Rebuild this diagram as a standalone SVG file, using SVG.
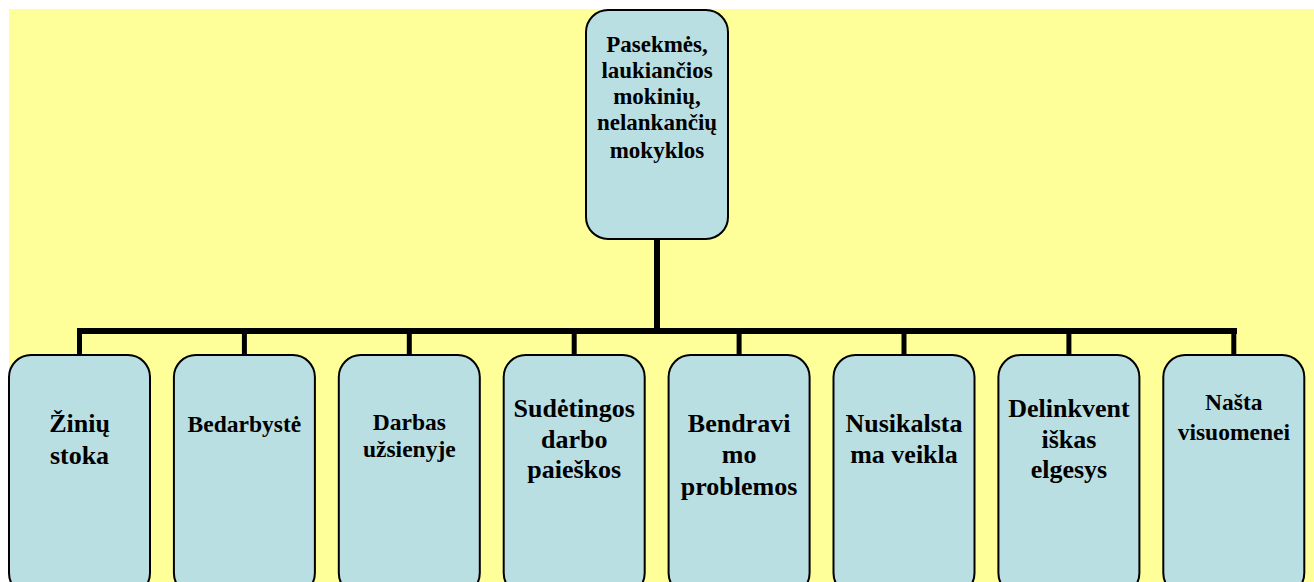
<svg xmlns="http://www.w3.org/2000/svg" width="1314" height="582" viewBox="0 0 1314 582">
<style>
.box{fill:#BADFE3;stroke:#000;stroke-width:2}
.t{font-family:"Liberation Serif","Times New Roman",serif;font-weight:bold;fill:#000;text-anchor:middle}
.l{stroke:#000;fill:none}
</style>
<rect x="0" y="0" width="1314" height="582" fill="#fff"/>
<rect x="9" y="9" width="1305" height="573" fill="#FFFF99"/>
<g id="connectors">
<line class="l" x1="657" y1="239" x2="657" y2="331" stroke-width="6"/>
<line class="l" x1="77" y1="331" x2="1237" y2="331" stroke-width="6"/>
<line class="l" x1="79.5" y1="331" x2="79.5" y2="356" stroke-width="5"/>
<line class="l" x1="244.4" y1="331" x2="244.4" y2="356" stroke-width="5"/>
<line class="l" x1="409.3" y1="331" x2="409.3" y2="356" stroke-width="5"/>
<line class="l" x1="574.2" y1="331" x2="574.2" y2="356" stroke-width="5"/>
<line class="l" x1="739.1" y1="331" x2="739.1" y2="356" stroke-width="5"/>
<line class="l" x1="904" y1="331" x2="904" y2="356" stroke-width="5"/>
<line class="l" x1="1068.9" y1="331" x2="1068.9" y2="356" stroke-width="5"/>
<line class="l" x1="1233.8" y1="331" x2="1233.8" y2="356" stroke-width="5"/>
</g>
<g id="root">
<rect class="box" x="586" y="10" width="142" height="229" rx="22"/>
<text class="t" font-size="23" x="657" y="52">Pasekmės,</text>
<text class="t" font-size="23" x="657" y="78">laukiančios</text>
<text class="t" font-size="23" x="657" y="104">mokinių,</text>
<text class="t" font-size="23" x="657" y="130">nelankančių</text>
<text class="t" font-size="23" x="657" y="158">mokyklos</text>
</g>
<g id="n1">
<rect class="box" x="9" y="355" width="141" height="240" rx="22"/>
<text class="t" font-size="26" x="79.5" y="432">Žinių</text>
<text class="t" font-size="26" x="79.5" y="464">stoka</text>
</g>
<g id="n2">
<rect class="box" x="173.9" y="355" width="141" height="240" rx="22"/>
<text class="t" font-size="23.5" x="244.4" y="432">Bedarbystė</text>
</g>
<g id="n3">
<rect class="box" x="338.8" y="355" width="141" height="240" rx="22"/>
<text class="t" font-size="23.5" x="409.3" y="430">Darbas</text>
<text class="t" font-size="23.5" x="409.3" y="457">užsienyje</text>
</g>
<g id="n4">
<rect class="box" x="503.7" y="355" width="141" height="240" rx="22"/>
<text class="t" font-size="26" x="574.2" y="417">Sudėtingos</text>
<text class="t" font-size="26" x="574.2" y="448">darbo</text>
<text class="t" font-size="26" x="574.2" y="478">paieškos</text>
</g>
<g id="n5">
<rect class="box" x="668.6" y="355" width="141" height="240" rx="22"/>
<text class="t" font-size="26" x="739.1" y="432">Bendravi</text>
<text class="t" font-size="26" x="739.1" y="463">mo</text>
<text class="t" font-size="26" x="739.1" y="495">problemos</text>
</g>
<g id="n6">
<rect class="box" x="833.5" y="355" width="141" height="240" rx="22"/>
<text class="t" font-size="26" x="904" y="432">Nusikalsta</text>
<text class="t" font-size="26" x="904" y="463">ma veikla</text>
</g>
<g id="n7">
<rect class="box" x="998.4" y="355" width="141" height="240" rx="22"/>
<text class="t" font-size="26" x="1068.9" y="417">Delinkvent</text>
<text class="t" font-size="26" x="1068.9" y="448">iškas</text>
<text class="t" font-size="26" x="1068.9" y="478">elgesys</text>
</g>
<g id="n8">
<rect class="box" x="1163.3" y="355" width="141" height="240" rx="22"/>
<text class="t" font-size="23.5" x="1233.8" y="410">Našta</text>
<text class="t" font-size="23.5" x="1233.8" y="440">visuomenei</text>
</g>
</svg>
